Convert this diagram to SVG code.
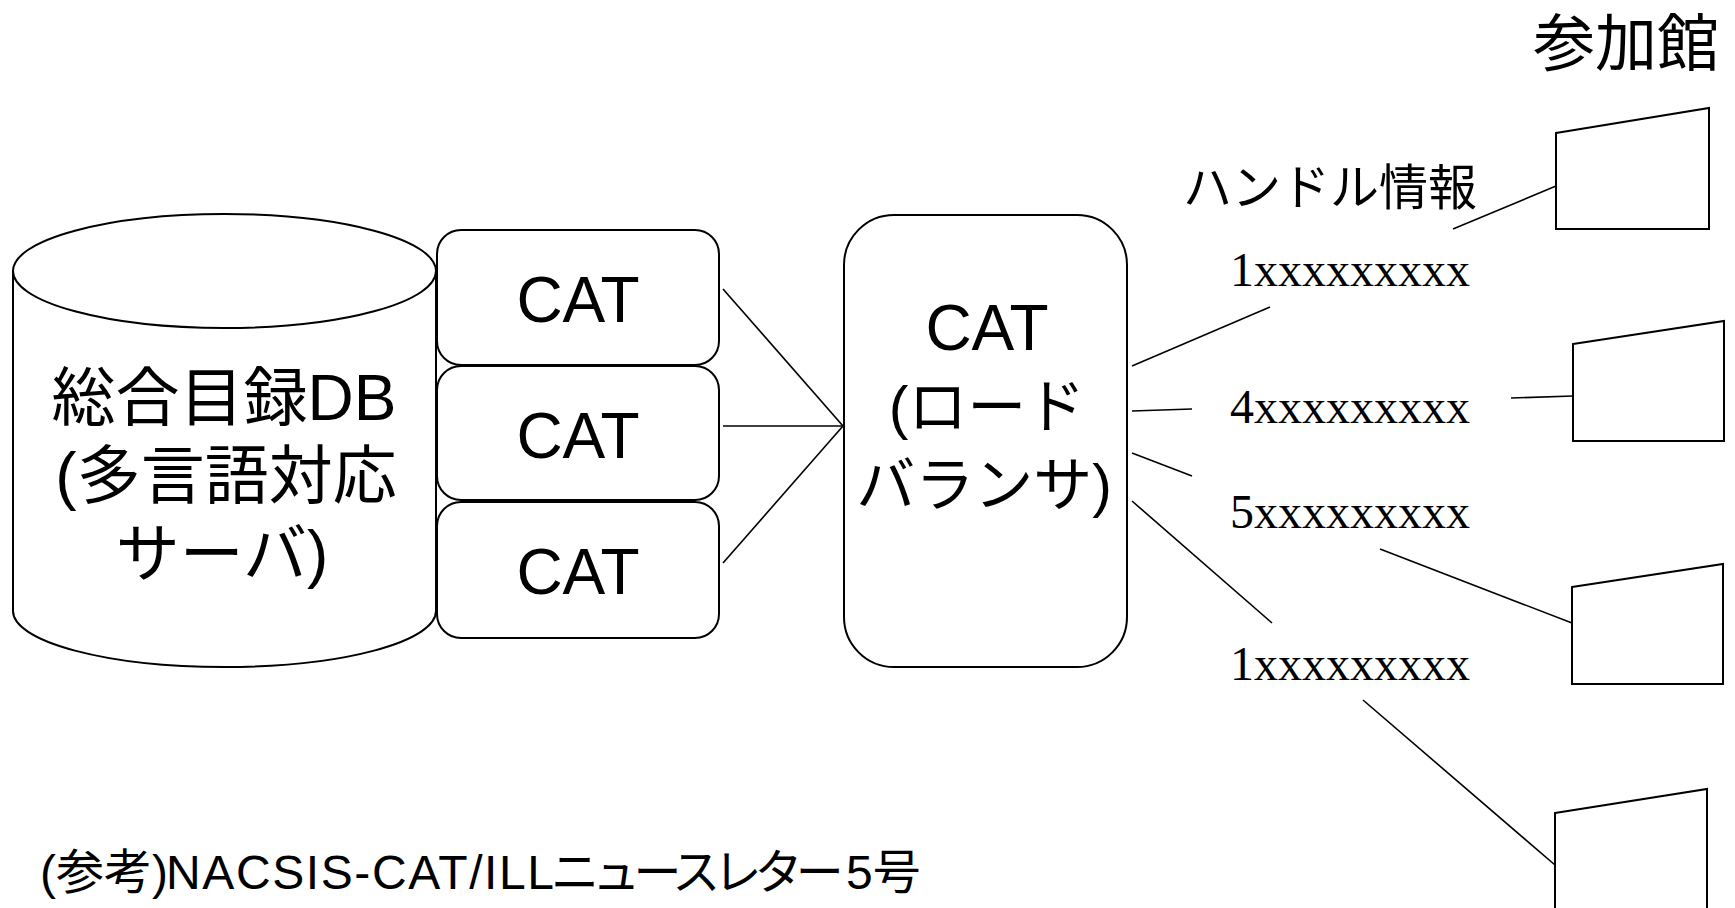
<svg xmlns="http://www.w3.org/2000/svg" width="1735" height="908" viewBox="0 0 1735 908">
<style>
.shape{fill:#fff;stroke:#000;stroke-width:2}
.ln{stroke:#000;stroke-width:1.6;fill:none}
.t{font-family:"Liberation Sans","Noto Sans CJK JP",sans-serif;fill:#000}
.c{text-anchor:middle}
.x{font-family:"Liberation Serif",serif;font-size:48px;fill:#000}
</style>
<rect width="1735" height="908" fill="#fff"/>
<g id="connectors">
<line class="ln" x1="723" y1="289" x2="843" y2="426"/>
<line class="ln" x1="723" y1="426" x2="843" y2="426"/>
<line class="ln" x1="723" y1="563" x2="843" y2="426"/>
<line class="ln" x1="1132" y1="366" x2="1270" y2="307"/>
<line class="ln" x1="1132" y1="411" x2="1192" y2="409"/>
<line class="ln" x1="1132" y1="453" x2="1192" y2="476"/>
<line class="ln" x1="1132" y1="501" x2="1272" y2="623"/>
<line class="ln" x1="1453" y1="229" x2="1556" y2="186"/>
<line class="ln" x1="1511" y1="398" x2="1573" y2="396"/>
<line class="ln" x1="1380" y1="549" x2="1572" y2="623"/>
<line class="ln" x1="1363" y1="700" x2="1555" y2="865"/>
</g>
<g id="db">
<path class="shape" d="M13 271 L13 611 A211.5 56 0 0 0 436 611 L436 271"/>
<ellipse class="shape" cx="224.5" cy="271" rx="211.5" ry="57"/>
<text class="t c" font-size="64" x="224" y="420">総合目録DB</text>
<text class="t c" font-size="64" x="226" y="498">(多言語対応</text>
<text class="t c" font-size="64" x="222" y="576">サーバ)</text>
</g>
<g id="cat1">
<rect class="shape" x="437" y="230" width="282" height="135" rx="24"/>
<text class="t c" font-size="64" x="578" y="322">CAT</text>
</g>
<g id="cat2">
<rect class="shape" x="437" y="366" width="282" height="134" rx="24"/>
<text class="t c" font-size="64" x="578" y="458">CAT</text>
</g>
<g id="cat3">
<rect class="shape" x="437" y="502" width="282" height="136" rx="24"/>
<text class="t c" font-size="64" x="578" y="594">CAT</text>
</g>
<g id="lb">
<rect class="shape" x="844" y="215" width="283" height="452" rx="50"/>
<text class="t c" font-size="64" x="987" y="350">CAT</text>
<text class="t c" font-size="59" x="987" y="428">(ロード</text>
<text class="t c" font-size="59" x="984" y="506">バランサ)</text>
</g>
<g id="labels">
<text class="t" font-size="62" x="1533" y="66">参加館</text>
<text class="t" font-size="49" x="1183" y="205">ハンドル情報</text>
<text class="x" x="1230" y="286">1xxxxxxxxx</text>
<text class="x" x="1230" y="423">4xxxxxxxxx</text>
<text class="x" x="1230" y="528">5xxxxxxxxx</text>
<text class="x" x="1230" y="680">1xxxxxxxxx</text>
</g>
<g id="lib1"><polygon class="shape" points="1556,133 1709,108 1709,229 1556,229"/></g>
<g id="lib2"><polygon class="shape" points="1573,344 1724,321 1724,441 1573,441"/></g>
<g id="lib3"><polygon class="shape" points="1572,587 1723,564 1723,684 1572,684"/></g>
<g id="lib4"><polygon class="shape" points="1555,813 1707,789 1707,930 1555,930"/></g>
<g id="source">
<text class="t" font-size="48" y="889"><tspan x="40">(参考)</tspan><tspan x="166" letter-spacing="1.6">NACSIS-CAT/ILL</tspan><tspan x="551" letter-spacing="-6.8">ニュースレター</tspan><tspan x="846">5号</tspan></text>
</g>
</svg>
